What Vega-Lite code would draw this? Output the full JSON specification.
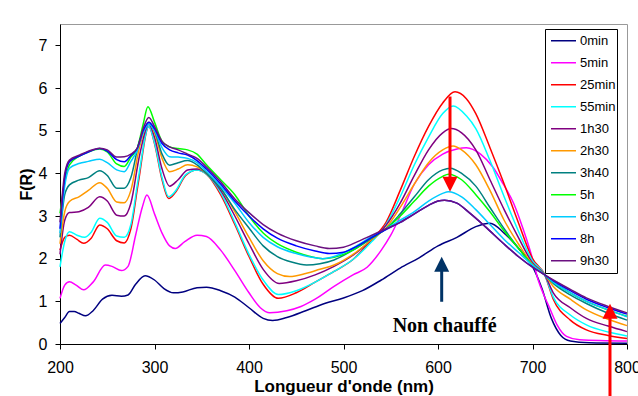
{
  "$schema": "https://vega.github.io/schema/vega-lite/v6.json",
  "width": 567,
  "height": 320,
  "autosize": {"type": "none"},
  "padding": {"left": 60, "top": 24, "right": 11, "bottom": 52},
  "background": "white",
  "config": {
    "font": "Liberation Sans",
    "view": {"stroke": "#999999", "strokeWidth": 1},
    "axis": {"domainColor": "black", "tickColor": "black", "labelColor": "black", "titleColor": "black", "grid": false, "labelFontSize": 16, "tickSize": 5, "titleFontWeight": "bold"}
  },
  "datasets": {
    "spectra": [
      {"t":"0min","nm":200,"F":0.48},{"t":"0min","nm":205,"F":0.62},{"t":"0min","nm":210,"F":0.76},{"t":"0min","nm":215,"F":0.76},{"t":"0min","nm":220,"F":0.72},{"t":"0min","nm":227,"F":0.66},{"t":"0min","nm":235,"F":0.78},{"t":"0min","nm":245,"F":1.05},{"t":"0min","nm":255,"F":1.14},{"t":"0min","nm":265,"F":1.12},{"t":"0min","nm":272,"F":1.15},{"t":"0min","nm":280,"F":1.4},{"t":"0min","nm":290,"F":1.6},{"t":"0min","nm":300,"F":1.5},{"t":"0min","nm":310,"F":1.3},{"t":"0min","nm":320,"F":1.2},{"t":"0min","nm":330,"F":1.22},{"t":"0min","nm":345,"F":1.32},{"t":"0min","nm":355,"F":1.33},{"t":"0min","nm":370,"F":1.25},{"t":"0min","nm":385,"F":1.1},{"t":"0min","nm":400,"F":0.85},{"t":"0min","nm":415,"F":0.6},{"t":"0min","nm":425,"F":0.55},{"t":"0min","nm":440,"F":0.62},{"t":"0min","nm":460,"F":0.78},{"t":"0min","nm":480,"F":0.95},{"t":"0min","nm":500,"F":1.08},{"t":"0min","nm":520,"F":1.25},{"t":"0min","nm":540,"F":1.5},{"t":"0min","nm":560,"F":1.78},{"t":"0min","nm":580,"F":2.02},{"t":"0min","nm":600,"F":2.3},{"t":"0min","nm":620,"F":2.5},{"t":"0min","nm":640,"F":2.75},{"t":"0min","nm":655,"F":2.83},{"t":"0min","nm":670,"F":2.6},{"t":"0min","nm":685,"F":2.25},{"t":"0min","nm":700,"F":1.82},{"t":"0min","nm":710,"F":1.3},{"t":"0min","nm":720,"F":0.6},{"t":"0min","nm":730,"F":0.2},{"t":"0min","nm":740,"F":0.07},{"t":"0min","nm":760,"F":0.03},{"t":"0min","nm":800,"F":0.02},
      {"t":"5min","nm":200,"F":1.07},{"t":"5min","nm":205,"F":1.38},{"t":"5min","nm":210,"F":1.46},{"t":"5min","nm":217,"F":1.38},{"t":"5min","nm":225,"F":1.27},{"t":"5min","nm":235,"F":1.45},{"t":"5min","nm":248,"F":1.85},{"t":"5min","nm":255,"F":1.82},{"t":"5min","nm":265,"F":1.72},{"t":"5min","nm":272,"F":1.82},{"t":"5min","nm":280,"F":2.55},{"t":"5min","nm":287,"F":3.2},{"t":"5min","nm":292,"F":3.49},{"t":"5min","nm":300,"F":3.05},{"t":"5min","nm":308,"F":2.6},{"t":"5min","nm":316,"F":2.3},{"t":"5min","nm":322,"F":2.24},{"t":"5min","nm":332,"F":2.4},{"t":"5min","nm":345,"F":2.55},{"t":"5min","nm":355,"F":2.52},{"t":"5min","nm":370,"F":2.2},{"t":"5min","nm":385,"F":1.72},{"t":"5min","nm":400,"F":1.2},{"t":"5min","nm":412,"F":0.85},{"t":"5min","nm":422,"F":0.73},{"t":"5min","nm":440,"F":0.78},{"t":"5min","nm":455,"F":0.88},{"t":"5min","nm":470,"F":1.05},{"t":"5min","nm":490,"F":1.35},{"t":"5min","nm":510,"F":1.62},{"t":"5min","nm":525,"F":1.8},{"t":"5min","nm":540,"F":2.2},{"t":"5min","nm":550,"F":2.55},{"t":"5min","nm":560,"F":3.0},{"t":"5min","nm":575,"F":3.75},{"t":"5min","nm":590,"F":4.2},{"t":"5min","nm":605,"F":4.45},{"t":"5min","nm":620,"F":4.57},{"t":"5min","nm":630,"F":4.6},{"t":"5min","nm":645,"F":4.45},{"t":"5min","nm":658,"F":4.15},{"t":"5min","nm":669,"F":3.75},{"t":"5min","nm":680,"F":3.3},{"t":"5min","nm":690,"F":2.7},{"t":"5min","nm":700,"F":2.0},{"t":"5min","nm":706,"F":1.5},{"t":"5min","nm":712,"F":1.15},{"t":"5min","nm":718,"F":0.85},{"t":"5min","nm":726,"F":0.45},{"t":"5min","nm":736,"F":0.18},{"t":"5min","nm":750,"F":0.1},{"t":"5min","nm":800,"F":0.07},
      {"t":"25min","nm":200,"F":2.2},{"t":"25min","nm":205,"F":2.5},{"t":"25min","nm":210,"F":2.55},{"t":"25min","nm":218,"F":2.45},{"t":"25min","nm":225,"F":2.36},{"t":"25min","nm":233,"F":2.48},{"t":"25min","nm":242,"F":2.79},{"t":"25min","nm":250,"F":2.7},{"t":"25min","nm":260,"F":2.42},{"t":"25min","nm":268,"F":2.37},{"t":"25min","nm":275,"F":2.7},{"t":"25min","nm":283,"F":3.8},{"t":"25min","nm":294,"F":5.1},{"t":"25min","nm":300,"F":4.7},{"t":"25min","nm":308,"F":3.85},{"t":"25min","nm":315,"F":3.41},{"t":"25min","nm":322,"F":3.55},{"t":"25min","nm":333,"F":3.95},{"t":"25min","nm":345,"F":4.08},{"t":"25min","nm":355,"F":3.98},{"t":"25min","nm":370,"F":3.5},{"t":"25min","nm":385,"F":2.8},{"t":"25min","nm":400,"F":2.05},{"t":"25min","nm":415,"F":1.4},{"t":"25min","nm":431,"F":1.07},{"t":"25min","nm":450,"F":1.2},{"t":"25min","nm":470,"F":1.45},{"t":"25min","nm":490,"F":1.7},{"t":"25min","nm":510,"F":1.98},{"t":"25min","nm":530,"F":2.45},{"t":"25min","nm":545,"F":2.85},{"t":"25min","nm":560,"F":3.6},{"t":"25min","nm":575,"F":4.4},{"t":"25min","nm":590,"F":5.1},{"t":"25min","nm":605,"F":5.65},{"t":"25min","nm":618,"F":5.91},{"t":"25min","nm":630,"F":5.75},{"t":"25min","nm":640,"F":5.4},{"t":"25min","nm":655,"F":4.6},{"t":"25min","nm":670,"F":3.75},{"t":"25min","nm":685,"F":2.85},{"t":"25min","nm":700,"F":2.0},{"t":"25min","nm":713,"F":1.62},{"t":"25min","nm":722,"F":1.05},{"t":"25min","nm":740,"F":0.56},{"t":"25min","nm":757,"F":0.33},{"t":"25min","nm":780,"F":0.2},{"t":"25min","nm":800,"F":0.13},
      {"t":"55min","nm":200,"F":1.81},{"t":"55min","nm":205,"F":2.4},{"t":"55min","nm":210,"F":2.63},{"t":"55min","nm":218,"F":2.55},{"t":"55min","nm":226,"F":2.5},{"t":"55min","nm":233,"F":2.62},{"t":"55min","nm":242,"F":2.95},{"t":"55min","nm":250,"F":2.85},{"t":"55min","nm":260,"F":2.53},{"t":"55min","nm":268,"F":2.5},{"t":"55min","nm":275,"F":2.8},{"t":"55min","nm":283,"F":3.9},{"t":"55min","nm":294,"F":5.1},{"t":"55min","nm":300,"F":4.72},{"t":"55min","nm":308,"F":3.9},{"t":"55min","nm":315,"F":3.45},{"t":"55min","nm":322,"F":3.58},{"t":"55min","nm":333,"F":3.97},{"t":"55min","nm":345,"F":4.08},{"t":"55min","nm":355,"F":3.98},{"t":"55min","nm":370,"F":3.55},{"t":"55min","nm":385,"F":2.85},{"t":"55min","nm":400,"F":2.1},{"t":"55min","nm":415,"F":1.5},{"t":"55min","nm":431,"F":1.16},{"t":"55min","nm":450,"F":1.25},{"t":"55min","nm":470,"F":1.45},{"t":"55min","nm":490,"F":1.7},{"t":"55min","nm":510,"F":1.98},{"t":"55min","nm":530,"F":2.4},{"t":"55min","nm":545,"F":2.8},{"t":"55min","nm":560,"F":3.45},{"t":"55min","nm":575,"F":4.2},{"t":"55min","nm":590,"F":4.85},{"t":"55min","nm":605,"F":5.4},{"t":"55min","nm":616,"F":5.58},{"t":"55min","nm":630,"F":5.35},{"t":"55min","nm":640,"F":5.05},{"t":"55min","nm":655,"F":4.3},{"t":"55min","nm":670,"F":3.45},{"t":"55min","nm":685,"F":2.65},{"t":"55min","nm":700,"F":1.95},{"t":"55min","nm":713,"F":1.62},{"t":"55min","nm":722,"F":1.1},{"t":"55min","nm":740,"F":0.68},{"t":"55min","nm":757,"F":0.45},{"t":"55min","nm":780,"F":0.28},{"t":"55min","nm":800,"F":0.19},
      {"t":"1h30","nm":200,"F":2.1},{"t":"1h30","nm":205,"F":2.9},{"t":"1h30","nm":210,"F":3.08},{"t":"1h30","nm":220,"F":3.1},{"t":"1h30","nm":230,"F":3.2},{"t":"1h30","nm":242,"F":3.45},{"t":"1h30","nm":250,"F":3.35},{"t":"1h30","nm":260,"F":3.02},{"t":"1h30","nm":268,"F":3.0},{"t":"1h30","nm":275,"F":3.3},{"t":"1h30","nm":284,"F":4.4},{"t":"1h30","nm":294,"F":5.15},{"t":"1h30","nm":300,"F":4.85},{"t":"1h30","nm":308,"F":4.1},{"t":"1h30","nm":316,"F":3.7},{"t":"1h30","nm":325,"F":3.85},{"t":"1h30","nm":335,"F":4.08},{"t":"1h30","nm":345,"F":4.1},{"t":"1h30","nm":355,"F":4.0},{"t":"1h30","nm":370,"F":3.6},{"t":"1h30","nm":385,"F":3.0},{"t":"1h30","nm":400,"F":2.35},{"t":"1h30","nm":415,"F":1.75},{"t":"1h30","nm":432,"F":1.42},{"t":"1h30","nm":450,"F":1.48},{"t":"1h30","nm":470,"F":1.62},{"t":"1h30","nm":490,"F":1.82},{"t":"1h30","nm":510,"F":2.08},{"t":"1h30","nm":530,"F":2.45},{"t":"1h30","nm":545,"F":2.78},{"t":"1h30","nm":560,"F":3.3},{"t":"1h30","nm":575,"F":3.95},{"t":"1h30","nm":590,"F":4.55},{"t":"1h30","nm":605,"F":4.95},{"t":"1h30","nm":614,"F":5.05},{"t":"1h30","nm":625,"F":4.95},{"t":"1h30","nm":640,"F":4.55},{"t":"1h30","nm":655,"F":3.85},{"t":"1h30","nm":670,"F":3.15},{"t":"1h30","nm":685,"F":2.5},{"t":"1h30","nm":700,"F":1.9},{"t":"1h30","nm":713,"F":1.62},{"t":"1h30","nm":722,"F":1.2},{"t":"1h30","nm":740,"F":0.85},{"t":"1h30","nm":757,"F":0.6},{"t":"1h30","nm":780,"F":0.42},{"t":"1h30","nm":800,"F":0.29},
      {"t":"2h30","nm":200,"F":2.35},{"t":"2h30","nm":205,"F":3.1},{"t":"2h30","nm":210,"F":3.34},{"t":"2h30","nm":220,"F":3.45},{"t":"2h30","nm":230,"F":3.6},{"t":"2h30","nm":242,"F":3.78},{"t":"2h30","nm":250,"F":3.65},{"t":"2h30","nm":260,"F":3.33},{"t":"2h30","nm":268,"F":3.31},{"t":"2h30","nm":275,"F":3.6},{"t":"2h30","nm":284,"F":4.6},{"t":"2h30","nm":294,"F":5.2},{"t":"2h30","nm":300,"F":4.95},{"t":"2h30","nm":308,"F":4.35},{"t":"2h30","nm":316,"F":4.04},{"t":"2h30","nm":325,"F":4.1},{"t":"2h30","nm":335,"F":4.2},{"t":"2h30","nm":345,"F":4.15},{"t":"2h30","nm":355,"F":4.0},{"t":"2h30","nm":370,"F":3.65},{"t":"2h30","nm":385,"F":3.1},{"t":"2h30","nm":400,"F":2.5},{"t":"2h30","nm":415,"F":1.95},{"t":"2h30","nm":430,"F":1.65},{"t":"2h30","nm":443,"F":1.58},{"t":"2h30","nm":460,"F":1.65},{"t":"2h30","nm":475,"F":1.75},{"t":"2h30","nm":490,"F":1.85},{"t":"2h30","nm":510,"F":2.1},{"t":"2h30","nm":530,"F":2.45},{"t":"2h30","nm":545,"F":2.72},{"t":"2h30","nm":560,"F":3.2},{"t":"2h30","nm":575,"F":3.75},{"t":"2h30","nm":590,"F":4.25},{"t":"2h30","nm":605,"F":4.55},{"t":"2h30","nm":616,"F":4.64},{"t":"2h30","nm":625,"F":4.55},{"t":"2h30","nm":640,"F":4.2},{"t":"2h30","nm":655,"F":3.6},{"t":"2h30","nm":670,"F":2.9},{"t":"2h30","nm":685,"F":2.35},{"t":"2h30","nm":700,"F":1.87},{"t":"2h30","nm":713,"F":1.62},{"t":"2h30","nm":722,"F":1.35},{"t":"2h30","nm":740,"F":1.05},{"t":"2h30","nm":757,"F":0.8},{"t":"2h30","nm":780,"F":0.58},{"t":"2h30","nm":800,"F":0.43},
      {"t":"3h40","nm":200,"F":2.5},{"t":"3h40","nm":205,"F":3.5},{"t":"3h40","nm":210,"F":3.73},{"t":"3h40","nm":220,"F":3.84},{"t":"3h40","nm":230,"F":3.9},{"t":"3h40","nm":242,"F":4.06},{"t":"3h40","nm":250,"F":3.95},{"t":"3h40","nm":260,"F":3.65},{"t":"3h40","nm":268,"F":3.65},{"t":"3h40","nm":275,"F":3.9},{"t":"3h40","nm":284,"F":4.75},{"t":"3h40","nm":294,"F":5.15},{"t":"3h40","nm":300,"F":5.0},{"t":"3h40","nm":308,"F":4.45},{"t":"3h40","nm":316,"F":4.19},{"t":"3h40","nm":325,"F":4.25},{"t":"3h40","nm":335,"F":4.3},{"t":"3h40","nm":345,"F":4.2},{"t":"3h40","nm":355,"F":4.0},{"t":"3h40","nm":370,"F":3.65},{"t":"3h40","nm":385,"F":3.15},{"t":"3h40","nm":400,"F":2.72},{"t":"3h40","nm":415,"F":2.3},{"t":"3h40","nm":430,"F":2.05},{"t":"3h40","nm":445,"F":1.92},{"t":"3h40","nm":461,"F":1.85},{"t":"3h40","nm":475,"F":1.88},{"t":"3h40","nm":490,"F":1.97},{"t":"3h40","nm":510,"F":2.2},{"t":"3h40","nm":530,"F":2.48},{"t":"3h40","nm":545,"F":2.7},{"t":"3h40","nm":560,"F":3.05},{"t":"3h40","nm":575,"F":3.45},{"t":"3h40","nm":590,"F":3.85},{"t":"3h40","nm":605,"F":4.08},{"t":"3h40","nm":613,"F":4.12},{"t":"3h40","nm":625,"F":4.0},{"t":"3h40","nm":640,"F":3.7},{"t":"3h40","nm":655,"F":3.2},{"t":"3h40","nm":670,"F":2.7},{"t":"3h40","nm":685,"F":2.25},{"t":"3h40","nm":700,"F":1.85},{"t":"3h40","nm":713,"F":1.62},{"t":"3h40","nm":722,"F":1.42},{"t":"3h40","nm":740,"F":1.15},{"t":"3h40","nm":757,"F":0.95},{"t":"3h40","nm":780,"F":0.72},{"t":"3h40","nm":800,"F":0.56},
      {"t":"5h","nm":200,"F":3.06},{"t":"5h","nm":205,"F":3.8},{"t":"5h","nm":210,"F":4.2},{"t":"5h","nm":220,"F":4.4},{"t":"5h","nm":230,"F":4.5},{"t":"5h","nm":242,"F":4.57},{"t":"5h","nm":250,"F":4.5},{"t":"5h","nm":260,"F":4.22},{"t":"5h","nm":268,"F":4.16},{"t":"5h","nm":275,"F":4.38},{"t":"5h","nm":282,"F":4.6},{"t":"5h","nm":288,"F":5.15},{"t":"5h","nm":293,"F":5.56},{"t":"5h","nm":300,"F":5.2},{"t":"5h","nm":308,"F":4.75},{"t":"5h","nm":316,"F":4.62},{"t":"5h","nm":325,"F":4.58},{"t":"5h","nm":335,"F":4.55},{"t":"5h","nm":345,"F":4.45},{"t":"5h","nm":355,"F":4.2},{"t":"5h","nm":370,"F":3.85},{"t":"5h","nm":385,"F":3.5},{"t":"5h","nm":400,"F":3.0},{"t":"5h","nm":415,"F":2.6},{"t":"5h","nm":430,"F":2.35},{"t":"5h","nm":450,"F":2.15},{"t":"5h","nm":465,"F":2.05},{"t":"5h","nm":478,"F":2.0},{"t":"5h","nm":490,"F":2.03},{"t":"5h","nm":510,"F":2.2},{"t":"5h","nm":530,"F":2.5},{"t":"5h","nm":545,"F":2.7},{"t":"5h","nm":560,"F":3.0},{"t":"5h","nm":575,"F":3.35},{"t":"5h","nm":590,"F":3.7},{"t":"5h","nm":605,"F":3.93},{"t":"5h","nm":611,"F":3.98},{"t":"5h","nm":625,"F":3.85},{"t":"5h","nm":640,"F":3.5},{"t":"5h","nm":655,"F":3.1},{"t":"5h","nm":670,"F":2.65},{"t":"5h","nm":685,"F":2.25},{"t":"5h","nm":700,"F":1.85},{"t":"5h","nm":713,"F":1.62},{"t":"5h","nm":722,"F":1.45},{"t":"5h","nm":740,"F":1.2},{"t":"5h","nm":757,"F":1.0},{"t":"5h","nm":780,"F":0.8},{"t":"5h","nm":800,"F":0.65},
      {"t":"6h30","nm":200,"F":2.6},{"t":"6h30","nm":205,"F":3.7},{"t":"6h30","nm":210,"F":4.12},{"t":"6h30","nm":220,"F":4.23},{"t":"6h30","nm":230,"F":4.28},{"t":"6h30","nm":242,"F":4.33},{"t":"6h30","nm":250,"F":4.25},{"t":"6h30","nm":260,"F":4.08},{"t":"6h30","nm":268,"F":4.04},{"t":"6h30","nm":275,"F":4.28},{"t":"6h30","nm":282,"F":4.55},{"t":"6h30","nm":288,"F":4.95},{"t":"6h30","nm":294,"F":5.15},{"t":"6h30","nm":300,"F":5.0},{"t":"6h30","nm":308,"F":4.6},{"t":"6h30","nm":316,"F":4.39},{"t":"6h30","nm":325,"F":4.38},{"t":"6h30","nm":335,"F":4.35},{"t":"6h30","nm":345,"F":4.25},{"t":"6h30","nm":355,"F":4.05},{"t":"6h30","nm":370,"F":3.7},{"t":"6h30","nm":385,"F":3.3},{"t":"6h30","nm":400,"F":2.85},{"t":"6h30","nm":415,"F":2.5},{"t":"6h30","nm":430,"F":2.28},{"t":"6h30","nm":450,"F":2.12},{"t":"6h30","nm":465,"F":2.04},{"t":"6h30","nm":478,"F":2.0},{"t":"6h30","nm":490,"F":2.05},{"t":"6h30","nm":510,"F":2.25},{"t":"6h30","nm":530,"F":2.52},{"t":"6h30","nm":545,"F":2.7},{"t":"6h30","nm":560,"F":2.9},{"t":"6h30","nm":575,"F":3.1},{"t":"6h30","nm":590,"F":3.35},{"t":"6h30","nm":605,"F":3.53},{"t":"6h30","nm":611,"F":3.57},{"t":"6h30","nm":625,"F":3.45},{"t":"6h30","nm":640,"F":3.15},{"t":"6h30","nm":655,"F":2.8},{"t":"6h30","nm":670,"F":2.45},{"t":"6h30","nm":685,"F":2.15},{"t":"6h30","nm":700,"F":1.85},{"t":"6h30","nm":713,"F":1.62},{"t":"6h30","nm":722,"F":1.45},{"t":"6h30","nm":740,"F":1.2},{"t":"6h30","nm":757,"F":1.0},{"t":"6h30","nm":780,"F":0.8},{"t":"6h30","nm":800,"F":0.64},
      {"t":"8h","nm":200,"F":2.7},{"t":"8h","nm":205,"F":3.9},{"t":"8h","nm":210,"F":4.27},{"t":"8h","nm":220,"F":4.4},{"t":"8h","nm":230,"F":4.5},{"t":"8h","nm":242,"F":4.58},{"t":"8h","nm":250,"F":4.52},{"t":"8h","nm":260,"F":4.32},{"t":"8h","nm":268,"F":4.27},{"t":"8h","nm":275,"F":4.42},{"t":"8h","nm":282,"F":4.6},{"t":"8h","nm":288,"F":5.0},{"t":"8h","nm":294,"F":5.2},{"t":"8h","nm":300,"F":5.05},{"t":"8h","nm":308,"F":4.7},{"t":"8h","nm":316,"F":4.55},{"t":"8h","nm":325,"F":4.48},{"t":"8h","nm":335,"F":4.43},{"t":"8h","nm":345,"F":4.3},{"t":"8h","nm":355,"F":4.1},{"t":"8h","nm":370,"F":3.75},{"t":"8h","nm":385,"F":3.35},{"t":"8h","nm":400,"F":3.0},{"t":"8h","nm":415,"F":2.7},{"t":"8h","nm":430,"F":2.48},{"t":"8h","nm":450,"F":2.3},{"t":"8h","nm":470,"F":2.18},{"t":"8h","nm":485,"F":2.12},{"t":"8h","nm":500,"F":2.15},{"t":"8h","nm":515,"F":2.3},{"t":"8h","nm":530,"F":2.5},{"t":"8h","nm":545,"F":2.68},{"t":"8h","nm":560,"F":2.85},{"t":"8h","nm":575,"F":3.05},{"t":"8h","nm":590,"F":3.25},{"t":"8h","nm":600,"F":3.35},{"t":"8h","nm":607,"F":3.37},{"t":"8h","nm":620,"F":3.3},{"t":"8h","nm":634,"F":3.06},{"t":"8h","nm":650,"F":2.75},{"t":"8h","nm":669,"F":2.36},{"t":"8h","nm":685,"F":2.05},{"t":"8h","nm":700,"F":1.8},{"t":"8h","nm":713,"F":1.62},{"t":"8h","nm":722,"F":1.48},{"t":"8h","nm":740,"F":1.25},{"t":"8h","nm":757,"F":1.05},{"t":"8h","nm":780,"F":0.85},{"t":"8h","nm":800,"F":0.7},
      {"t":"9h30","nm":200,"F":2.85},{"t":"9h30","nm":205,"F":4.0},{"t":"9h30","nm":210,"F":4.31},{"t":"9h30","nm":221,"F":4.43},{"t":"9h30","nm":230,"F":4.52},{"t":"9h30","nm":242,"F":4.59},{"t":"9h30","nm":250,"F":4.55},{"t":"9h30","nm":260,"F":4.38},{"t":"9h30","nm":268,"F":4.39},{"t":"9h30","nm":275,"F":4.45},{"t":"9h30","nm":282,"F":4.6},{"t":"9h30","nm":288,"F":5.05},{"t":"9h30","nm":294,"F":5.31},{"t":"9h30","nm":300,"F":5.1},{"t":"9h30","nm":308,"F":4.75},{"t":"9h30","nm":316,"F":4.62},{"t":"9h30","nm":325,"F":4.55},{"t":"9h30","nm":335,"F":4.45},{"t":"9h30","nm":345,"F":4.35},{"t":"9h30","nm":355,"F":4.15},{"t":"9h30","nm":370,"F":3.8},{"t":"9h30","nm":385,"F":3.4},{"t":"9h30","nm":400,"F":3.08},{"t":"9h30","nm":415,"F":2.8},{"t":"9h30","nm":430,"F":2.6},{"t":"9h30","nm":450,"F":2.42},{"t":"9h30","nm":470,"F":2.3},{"t":"9h30","nm":485,"F":2.24},{"t":"9h30","nm":500,"F":2.27},{"t":"9h30","nm":515,"F":2.4},{"t":"9h30","nm":530,"F":2.55},{"t":"9h30","nm":545,"F":2.7},{"t":"9h30","nm":560,"F":2.85},{"t":"9h30","nm":575,"F":3.05},{"t":"9h30","nm":590,"F":3.25},{"t":"9h30","nm":600,"F":3.35},{"t":"9h30","nm":607,"F":3.37},{"t":"9h30","nm":620,"F":3.3},{"t":"9h30","nm":634,"F":3.06},{"t":"9h30","nm":650,"F":2.75},{"t":"9h30","nm":669,"F":2.36},{"t":"9h30","nm":685,"F":2.05},{"t":"9h30","nm":700,"F":1.8},{"t":"9h30","nm":713,"F":1.62},{"t":"9h30","nm":722,"F":1.5},{"t":"9h30","nm":740,"F":1.28},{"t":"9h30","nm":757,"F":1.08},{"t":"9h30","nm":780,"F":0.88},{"t":"9h30","nm":800,"F":0.73}
    ],
    "redShafts": [{"nm": 612.7, "F": 5.8, "F2": 3.85}, {"nm": 782, "F": -1.3, "F2": 0.7}],
    "redHeads": [{"nm": 612.7, "F": 3.745, "dir": "down"}, {"nm": 782, "F": 0.77, "dir": "up"}],
    "navyShafts": [{"nm": 603.9, "F": 0.99, "F2": 1.75}],
    "navyHeads": [{"nm": 603.9, "F": 1.87, "dir": "up"}],
    "notes": [{"nm": 607, "F": 0.29, "label": "Non chauffé"}]
  },
  "layer": [
    {
      "data": {"name": "spectra"},
      "mark": {"type": "line", "strokeWidth": 1.5, "interpolate": "monotone"},
      "encoding": {
        "x": {"field": "nm", "type": "quantitative", "scale": {"domain": [200, 800], "nice": false, "zero": false},
              "axis": {"title": "Longueur d'onde (nm)", "values": [200, 300, 400, 500, 600, 700, 800], "labelFlush": false, "labelOverlap": false, "labelPadding": 10, "titleFontSize": 17, "titlePadding": 3}},
        "y": {"field": "F", "type": "quantitative", "scale": {"domain": [0, 7.5], "nice": false},
              "axis": {"title": "F(R)", "values": [0, 1, 2, 3, 4, 5, 6, 7], "labelPadding": 8, "titleFontSize": 16, "titlePadding": 4}},
        "color": {"field": "t", "type": "nominal",
                  "scale": {"domain": ["0min", "5min", "25min", "55min", "1h30", "2h30", "3h40", "5h", "6h30", "8h", "9h30"],
                            "range": ["#000080", "#FF00FF", "#FF0000", "#00FFFF", "#800080", "#FF9900", "#008080", "#00FF00", "#00CCFF", "#0000FF", "#6B1080"]},
                  "legend": {"title": null, "orient": "none", "legendX": 485, "legendY": 5, "symbolType": "stroke", "symbolSize": 625, "symbolStrokeWidth": 1.5,
                             "labelFontSize": 13, "labelColor": "black", "fillColor": "white", "strokeColor": "black", "padding": 1, "clipHeight": 21.7, "rowPadding": 0,
                             "symbolOffset": 4, "labelOffset": 3}}
      }
    },
    {
      "data": {"name": "redShafts"},
      "mark": {"type": "rule", "color": "#FF0000", "strokeWidth": 3},
      "encoding": {"x": {"field": "nm", "type": "quantitative"}, "y": {"field": "F", "type": "quantitative"}, "y2": {"field": "F2"}}
    },
    {
      "data": {"name": "redHeads"},
      "mark": {"type": "point", "filled": true, "color": "#FF0000", "opacity": 1, "size": 225},
      "encoding": {"x": {"field": "nm", "type": "quantitative"}, "y": {"field": "F", "type": "quantitative"},
                   "shape": {"field": "dir", "type": "nominal", "scale": {"domain": ["up", "down"], "range": ["M0,-1L1,1L-1,1Z", "M0,1L1,-1L-1,-1Z"]}, "legend": null}}
    },
    {
      "data": {"name": "navyShafts"},
      "mark": {"type": "rule", "color": "#003366", "strokeWidth": 3},
      "encoding": {"x": {"field": "nm", "type": "quantitative"}, "y": {"field": "F", "type": "quantitative"}, "y2": {"field": "F2"}}
    },
    {
      "data": {"name": "navyHeads"},
      "mark": {"type": "point", "filled": true, "color": "#003366", "opacity": 1, "size": 225},
      "encoding": {"x": {"field": "nm", "type": "quantitative"}, "y": {"field": "F", "type": "quantitative"},
                   "shape": {"field": "dir", "type": "nominal", "legend": null}}
    },
    {
      "data": {"name": "notes"},
      "mark": {"type": "text", "font": "Liberation Serif", "fontWeight": "bold", "fontSize": 20, "color": "black", "align": "center", "baseline": "alphabetic"},
      "encoding": {"x": {"field": "nm", "type": "quantitative"}, "y": {"field": "F", "type": "quantitative"}, "text": {"field": "label"}}
    }
  ]
}
